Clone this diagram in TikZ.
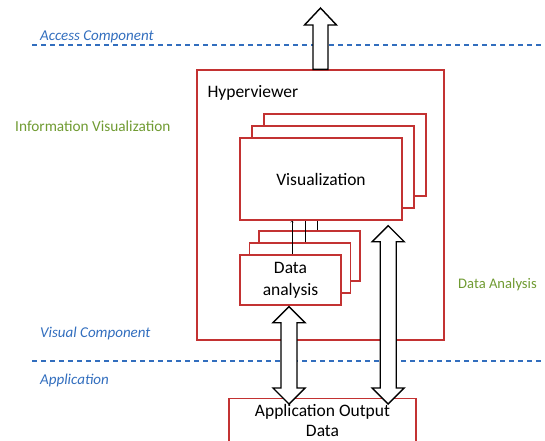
\documentclass[tikz,border=0pt]{standalone}
\usepackage{fontspec}
\setmainfont{Carlito}
\usetikzlibrary{calc,positioning}
\definecolor{boxred}{RGB}{195,50,50}
\definecolor{layerblue}{RGB}{50,110,190}
\definecolor{labelgreen}{RGB}{112,155,50}

\begin{document}
\begin{tikzpicture}[x=1pt, y=-1pt, >=to,
    frame/.style={draw=boxred, line width=1.4pt, fill=white},
    viscard/.style={frame, minimum width=162pt, minimum height=82pt,
      font=\fontsize{17.5}{21}\selectfont},
    dacard/.style={frame, minimum width=101pt, minimum height=50pt,
      align=center, font=\fontsize{17.5}{22}\selectfont},
    block/.style={draw=black, line width=1.4pt, fill=white, line join=miter},
    layer/.style={draw=layerblue, line width=1.3pt, dash pattern=on 5pt off 4pt},
    layertext/.style={text=layerblue, anchor=base west, inner sep=0pt,
      font=\itshape\fontsize{15}{17}\selectfont},
    areatext/.style={text=labelgreen, anchor=base west, inner sep=0pt,
      font=\fontsize{15}{17}\selectfont}]

  \clip (0,0) rectangle (545,440);

  \draw[layer] (32,45) -- (545,45);
  \draw[layer] (32,361) -- (545,361);

  \node[layertext] (access) at (40,40) {Access Component};
  \node[areatext, font=\fontsize{15.3}{17}\selectfont] (infovis) at (15,131) {Information Visualization};
  \node[layertext] (visual) at (40,337) {Visual Component};
  \node[layertext] (application) at (40,384) {Application};
  \node[areatext, font=\fontsize{14.6}{17}\selectfont] (analysis) at (458,288) {Data Analysis};

  \node[frame, minimum width=247pt, minimum height=270pt] (hv) at (320.5,205) {};
  \node[anchor=base west, inner sep=0pt, font=\fontsize{17.5}{21}\selectfont]
    (hvname) at ([shift={(11,28)}]hv.north west) {Hyperviewer};

  \foreach \i in {2,1}
    \node[viscard] (vis\i) at (321+12*\i,179-12*\i) {};
  \node[viscard] (vis0) at (321,179) {Visualization};

  \foreach \i in {2,1}
    \node[dacard] (da\i) at (290.5+9.5*\i,280-12*\i) {};
  \node[dacard] (da0) at (290.5,280) {Data\\analysis};

  \draw[->] ([xshift=1.5]da0.north) -- ([xshift=1.5]da0.north |- vis0.south);
  \draw ([xshift=5.5]da1.north) -- ([xshift=5.5]da1.north |- vis0.south);
  \draw ([xshift=7.5]da2.north) -- ([xshift=7.5]da2.north |- vis0.south);

  \node[frame, minimum width=187pt, minimum height=44pt, anchor=north,
    align=center, font=\fontsize{17.5}{20.5}\selectfont] (app) at (322.5,398)
    {Application Output\\Data};

  \coordinate (exit) at (320.5,8);
  \draw[block] let \p1 = (hv.north), \p2 = (exit) in
    (\x1-7.5pt,\y1) -- (\x1-7.5pt,\y2-17pt) -- (\x1-16pt,\y2-17pt) -- (\x2,\y2)
    -- (\x1+16pt,\y2-17pt) -- (\x1+7.5pt,\y2-17pt) -- (\x1+7.5pt,\y1) -- cycle;

  \draw[block] let \p1 = ([shift={(-1.5,1)}]da0.south), \p2 = ([yshift=-6]app.north) in
    (\x1,\y1) -- (\x1+16pt,\y1-16pt) -- (\x1+8pt,\y1-16pt) -- (\x1+8pt,\y2+16pt)
    -- (\x1+16pt,\y2+16pt) -- (\x1,\y2) -- (\x1-16pt,\y2+16pt) -- (\x1-8pt,\y2+16pt)
    -- (\x1-8pt,\y1-16pt) -- (\x1-16pt,\y1-16pt) -- cycle;

  \draw[block] let \p1 = ([shift={(-14.5,5)}]vis0.south east), \p2 = ([yshift=-6]app.north) in
    (\x1,\y1) -- (\x1+16pt,\y1-16pt) -- (\x1+8pt,\y1-16pt) -- (\x1+8pt,\y2+16pt)
    -- (\x1+16pt,\y2+16pt) -- (\x1,\y2) -- (\x1-16pt,\y2+16pt) -- (\x1-8pt,\y2+16pt)
    -- (\x1-8pt,\y1-16pt) -- (\x1-16pt,\y1-16pt) -- cycle;
\end{tikzpicture}
\end{document}
